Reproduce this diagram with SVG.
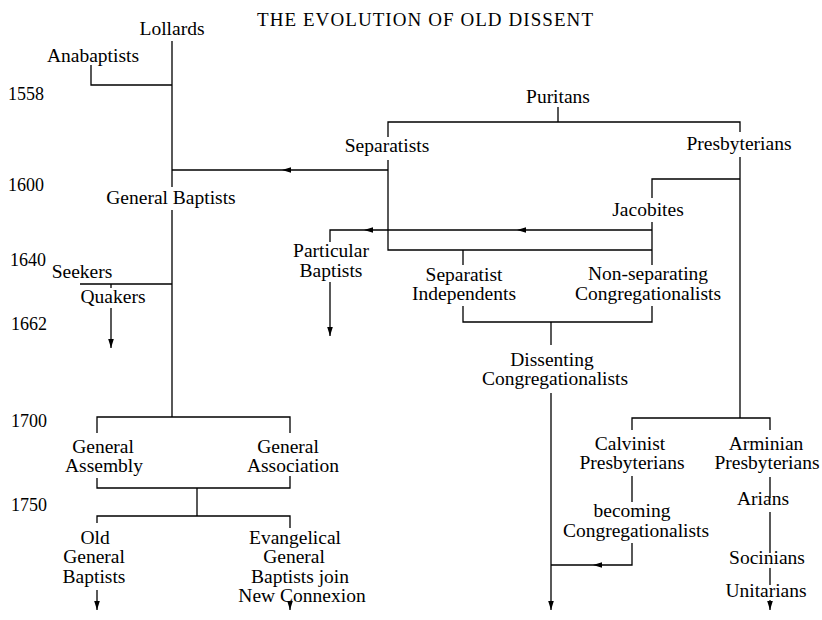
<svg xmlns="http://www.w3.org/2000/svg" width="822" height="620" viewBox="0 0 822 620">
<defs>
<style>
text{font-family:"Liberation Serif","Times New Roman",serif;font-size:19.5px;fill:#000;text-anchor:middle}
.yr{font-size:18px;text-anchor:start}
.title{font-size:19px;text-anchor:start}
.ln{fill:none;stroke:#000;stroke-width:1.3}
.arr{fill:none;stroke:#000;stroke-width:1.3;marker-end:url(#end)}
</style>
<marker id="end" markerWidth="10" markerHeight="8" refX="9" refY="4" orient="auto" markerUnits="userSpaceOnUse"><path d="M0,1.2 L9,4 L0,6.8 Z" fill="#000"/></marker>
<path id="ah" d="M0,0 L-9,-2.8 L-9,2.8 Z" fill="#000"/>
</defs>
<rect width="822" height="620" fill="#fff"/>
<text class="title" x="257" y="26" textLength="336" lengthAdjust="spacing">THE EVOLUTION OF OLD DISSENT</text>
<g id="years">
<text class="yr" x="8" y="100">1558</text>
<text class="yr" x="8" y="191">1600</text>
<text class="yr" x="10" y="266">1640</text>
<text class="yr" x="11" y="330">1662</text>
<text class="yr" x="11" y="427">1700</text>
<text class="yr" x="11" y="511">1750</text>
</g>
<g id="connectors">
<path class="ln" d="M172,41 V187 M172,210 V417"/>
<path class="ln" d="M91,65 V85 H172"/>
<path class="ln" d="M388,170 H172"/>
<use href="#ah" transform="translate(282,170) rotate(180)"/>
<path class="ln" d="M558,107 V122 M388,137 V122 H740 V132"/>
<path class="ln" d="M388,160 V250 H652"/>
<path class="ln" d="M740,157 V418"/>
<path class="ln" d="M740,179 H652 V198 M652,222 V265"/>
<path class="ln" d="M652,230 H330 V242"/>
<use href="#ah" transform="translate(517,230) rotate(180)"/>
<use href="#ah" transform="translate(364,230) rotate(180)"/>
<path class="arr" d="M330,282 V336"/>
<path class="ln" d="M463,250 V265 M463,306 V322 H652 V306"/>
<path class="ln" d="M551,322 V345"/>
<path class="arr" d="M551,393 V610"/>
<path class="ln" d="M80,284 H172 M111,284 V288"/>
<path class="arr" d="M111,308 V348"/>
<path class="ln" d="M97,433 V417 H290 V433 M97,478 V488 H290 V476 M197,488 V516 M97,523 V516 H290 V528"/>
<path class="arr" d="M97,590 V610"/>
<path class="arr" d="M290,602 V610"/>
<path class="ln" d="M632,430 V418 H770 V430"/>
<path class="ln" d="M632,476 V502 M632,543 V565 H551"/>
<use href="#ah" transform="translate(593,565) rotate(180)"/>
<path class="ln" d="M770,477 V498 M770,512 V553 M770,568 V585"/>
<path class="arr" d="M770,600 V610"/>
</g>
<g id="lollards"><text x="172" y="35">Lollards</text></g>
<g id="anabaptists"><text x="93" y="62">Anabaptists</text></g>
<g id="puritans"><text x="558" y="103">Puritans</text></g>
<g id="separatists"><text x="387" y="152">Separatists</text></g>
<g id="presbyterians"><text x="739" y="150">Presbyterians</text></g>
<g id="general-baptists"><text x="171" y="204">General Baptists</text></g>
<g id="jacobites"><text x="648" y="216">Jacobites</text></g>
<g id="particular-baptists"><text x="331" y="257">Particular</text><text x="331" y="277">Baptists</text></g>
<g id="separatist-independents"><text x="464" y="281">Separatist</text><text x="464" y="300">Independents</text></g>
<g id="non-separating"><text x="648" y="280">Non-separating</text><text x="648" y="300">Congregationalists</text></g>
<g id="seekers"><text x="82" y="278">Seekers</text></g>
<g id="quakers"><text x="113" y="303">Quakers</text></g>
<g id="dissenting"><text x="552" y="366">Dissenting</text><text x="555" y="385">Congregationalists</text></g>
<g id="general-assembly"><text x="103" y="453">General</text><text x="104" y="472">Assembly</text></g>
<g id="general-association"><text x="288" y="453">General</text><text x="293" y="472">Association</text></g>
<g id="old-general-baptists"><text x="95" y="544">Old</text><text x="94" y="563">General</text><text x="94" y="583">Baptists</text></g>
<g id="evangelical"><text x="295" y="544">Evangelical</text><text x="294" y="563">General</text><text x="300" y="583">Baptists join</text><text x="302" y="602">New Connexion</text></g>
<g id="calvinist"><text x="630" y="450">Calvinist</text><text x="632" y="469">Presbyterians</text></g>
<g id="arminian"><text x="766" y="450">Arminian</text><text x="767" y="469">Presbyterians</text></g>
<g id="becoming"><text x="632" y="517">becoming</text><text x="636" y="537">Congregationalists</text></g>
<g id="arians"><text x="763" y="505">Arians</text></g>
<g id="socinians"><text x="767" y="564">Socinians</text></g>
<g id="unitarians"><text x="766" y="597">Unitarians</text></g>
</svg>
